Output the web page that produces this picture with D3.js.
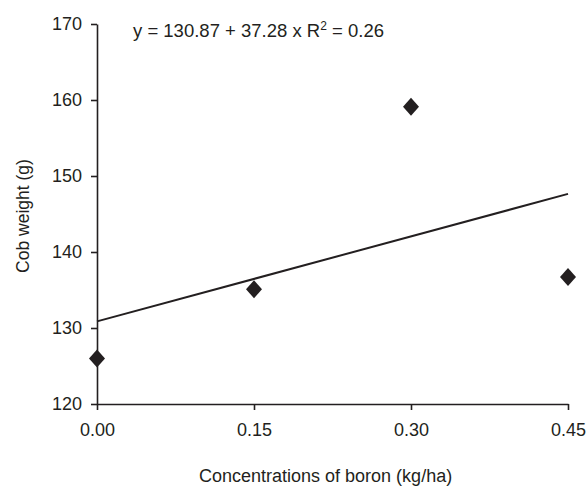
<!DOCTYPE html>
<html>
<head>
<meta charset="utf-8">
<title>Cob weight vs boron</title>
<script src="https://cdn.jsdelivr.net/npm/d3@7"></script>
<style>
  body { margin: 0; background: #fff; }
  svg text { font-family: "Liberation Sans", Arial, sans-serif; fill: #231f20; }
  .axis path, .axis line { stroke: #231f20; stroke-width: 1.6; }
  .axis text { font-size: 18px; }
</style>
</head>
<body>
<svg id="chart" width="588" height="487"></svg>
<script>
// data
var boron = [0.00, 0.15, 0.30, 0.45];
var cobWeight = [126, 135.1, 159.1, 136.7];
var xTicks = [0.00, 0.15, 0.30, 0.45];
var yTicks = [120, 130, 140, 150, 160, 170];
var intercept = 130.87, slope = 37.28;

var svg = d3.select("#chart");
var margin = {top: 24, right: 20, bottom: 83, left: 97};

var x = d3.scaleLinear().domain([0, 0.45]).range([margin.left, 568]);
var y = d3.scaleLinear().domain([120, 170]).range([404, margin.top]);

// axes
svg.append("g")
  .attr("class", "axis")
  .attr("transform", "translate(0,404)")
  .call(d3.axisBottom(x).tickValues(xTicks).tickFormat(d3.format(".2f")).tickSize(6).tickSizeOuter(0).tickPadding(13));

svg.append("g")
  .attr("class", "axis")
  .attr("transform", "translate(" + margin.left + ",0)")
  .call(d3.axisLeft(y).tickValues(yTicks).tickSize(6).tickSizeOuter(0).tickPadding(9));

// trend line
svg.append("line")
  .attr("x1", x(0)).attr("y1", y(intercept))
  .attr("x2", x(0.45)).attr("y2", y(intercept + slope * 0.45))
  .attr("stroke", "#231f20")
  .attr("stroke-width", 2);

// diamonds
svg.selectAll(".pt")
  .data(boron)
  .enter().append("path")
  .attr("class", "pt")
  .attr("d", function(d, i) {
    var cx = x(d), cy = y(cobWeight[i]);
    return "M" + cx + "," + (cy - 9) + "L" + (cx + 8) + "," + cy +
           "L" + cx + "," + (cy + 9) + "L" + (cx - 8) + "," + cy + "Z";
  })
  .attr("fill", "#231f20");

// equation
var eq = svg.append("text")
  .attr("x", 133)
  .attr("y", 37)
  .style("font-size", "18.5px");
eq.append("tspan").text("y = 130.87 + 37.28 x R");
eq.append("tspan").attr("dy", -7).style("font-size", "12px").text("2");
eq.append("tspan").attr("dy", 7).text(" = 0.26");

// axis titles
svg.append("text")
  .attr("transform", "translate(29,216) rotate(-90)")
  .attr("text-anchor", "middle")
  .style("font-size", "17.5px")
  .text("Cob weight (g)");

svg.append("text")
  .attr("x", 199)
  .attr("y", 482)
  .style("font-size", "18px")
  .text("Concentrations of boron (kg/ha)");
</script>
</body>
</html>
